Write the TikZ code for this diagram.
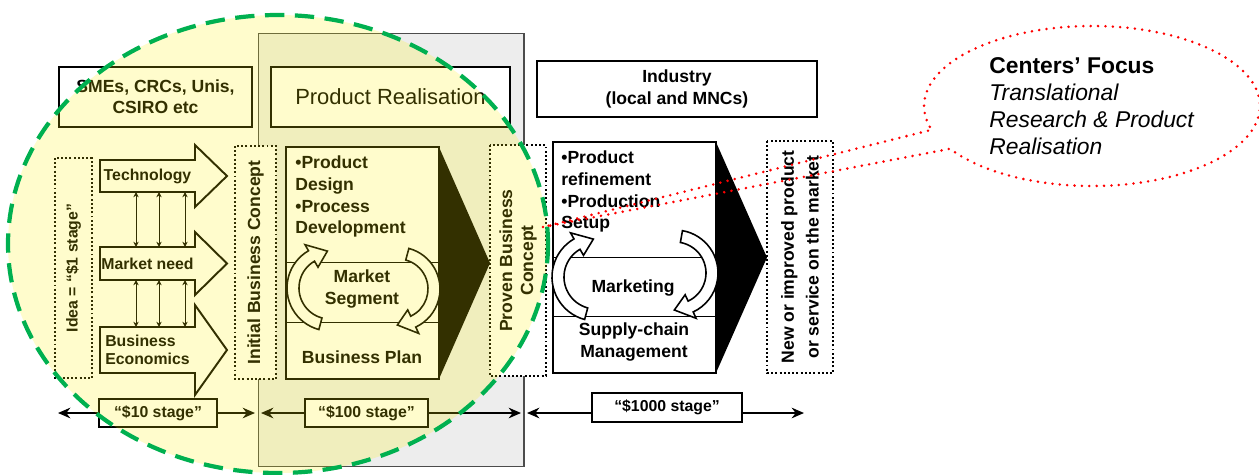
\documentclass[tikz,border=0pt]{standalone}
\usepackage{fontspec}
\setmainfont{Liberation Sans}
\usetikzlibrary{arrows.meta,calc,shapes.callouts}
\definecolor{focusgreen}{RGB}{0,176,80}
\definecolor{panelgray}{gray}{0.93}

\tikzset{
  box/.style={draw, line width=1.1pt, fill=white, inner sep=0pt, outer sep=0pt, align=center,
    font=\bfseries\fontsize{10}{12}\selectfont},
  dotbox/.style={box, dash pattern=on 1.1pt off 1.3pt, rotate=90},
  shaft/.style={inner sep=0pt, outer sep=0pt, minimum width=1.9cm, align=left,
    font=\bfseries\fontsize{9}{10.5}\selectfont},
  lbl/.style={inner sep=0pt, align=center, font=\bfseries\fontsize{10}{12.5}\selectfont},
  stagebox/.style={box, font=\bfseries\fontsize{9}{10}\selectfont},
  link/.style={line width=0.5pt, {Stealth[length=3pt,width=3pt]}-{Stealth[length=3pt,width=3pt]}},
  stageline/.style={line width=1.2pt, -{Stealth[length=7pt,width=6pt]}},
  cyclearr/.style={draw, fill=white, line width=0.9pt},
}

% fat arrow round a shaft node
\newcommand\blockarrow[2]{%
  \draw[line width=1.1pt] (#1.north west) -- (#1.north east) -- ($(#1.north east)+(0,-#2)$)
    -- ($(#1.east)+(32,0)$) -- ($(#1.south east)+(0,#2)$) -- (#1.south east) -- (#1.south west) -- cycle;}
% hollow round arrow: centre, radius, start, end
\newcommand\cyclearrow[4]{%
  \draw[cyclearr, shift={#1}] (#3:{#2+6}) arc[start angle=#3, end angle=#4, radius={#2+6}]
    -- (#4:{#2+13}) -- ({#4+26}:#2) -- (#4:{#2-13}) -- (#4:{#2-6})
    arc[start angle=#4, end angle=#3, radius={#2-6}] -- cycle;}

\begin{document}
\begin{tikzpicture}[x=0.02cm, y=-0.02cm]
  \useasboundingbox (0,0) rectangle (1259,474);
  \node[draw=gray!60!black, line width=0.6pt, fill=panelgray, minimum width=5.32cm, minimum height=8.68cm,
    inner sep=0pt, outer sep=0pt] (panel) at (391,250) {};

  % headers
  \node[box, minimum width=3.86cm, minimum height=1.2cm] (smes) at (155.5,97) {SMEs, CRCs, Unis,\\CSIRO etc};
  \node[box, minimum width=4.78cm, minimum height=1.2cm, font=\fontsize{12.5}{14}\selectfont] (realis) at (390.5,97) {Product Realisation};
  \node[box, minimum width=5.6cm, minimum height=1.12cm, font=\bfseries\fontsize{10}{13}\selectfont] (industry) at (677,89) {Industry\\(local and MNCs)};

  % left column
  \node[dotbox, minimum width=4.4cm, minimum height=0.74cm, font=\bfseries\fontsize{9}{10}\selectfont] (idea) at (73.5,268) {Idea = “\$1 stage”};
  \node[shaft, minimum height=0.64cm] (tech) at (147.5,176) {Technology};
  \node[shaft, minimum height=0.66cm] (need) at (147.5,263.5) {Market need};
  \node[shaft, minimum height=0.92cm] (econ) at (147.5,350) {Business\\Economics};
  \blockarrow{tech}{15}
  \blockarrow{need}{15}
  \blockarrow{econ}{22}
  \foreach \dx in {36,59,85}{
    \draw[link] ($(tech.south west)+(\dx,0)$) -- ($(need.north west)+(\dx,0)$);
    \draw[link] ($(need.south west)+(\dx,0)$) -- ($(econ.north west)+(\dx,0)$);
  }
  \node[dotbox, minimum width=4.66cm, minimum height=0.82cm] (initial) at (255.5,262.5) {Initial Business Concept};

  % product realisation
  \node[box, minimum width=3.06cm, minimum height=4.64cm] (design) at (362.5,263) {};
  \fill (design.north east) -- ($(design.east)+(51,0)$) -- (design.south east) -- cycle;
  \draw[line width=0.6pt] ($(design.north west)+(0,115)$) -- ($(design.north east)+(0,115)$);
  \draw[line width=0.6pt] ($(design.north west)+(0,175)$) -- ($(design.north east)+(0,175)$);
  \cyclearrow{(330,288)}{37}{105}{240}
  \cyclearrow{(398,289)}{36}{-75}{65}
  \node[lbl, anchor=north west, align=left] (designtxt) at ($(design.north west)+(9,8)$) {•Product\\Design\\•Process\\Development};
  \node[lbl] (segment) at (362,289) {Market\\Segment};
  \node[lbl] (bplan) at (362,357) {Business Plan};
  \node[dotbox, minimum width=4.62cm, minimum height=1.12cm] (proven) at (518,260.5) {Proven Business\\Concept};

  % industry
  \node[box, minimum width=3.26cm, minimum height=4.62cm] (refine) at (634.5,257.5) {};
  \fill (refine.north east) -- ($(refine.east)+(51,0)$) -- (refine.south east) -- cycle;
  \draw[line width=0.6pt] ($(refine.north west)+(0,115)$) -- ($(refine.north east)+(0,115)$);
  \draw[line width=0.6pt] ($(refine.north west)+(0,174)$) -- ($(refine.north east)+(0,174)$);
  \cyclearrow{(596,277)}{38}{105}{240}
  \cyclearrow{(675,273)}{37}{-80}{65}
  \node[lbl, anchor=north west, align=left] (refinetxt) at ($(refine.north west)+(8,8)$) {•Product\\refinement\\•Production\\Setup};
  \node[lbl] (marketing) at (633,288) {Marketing};
  \node[lbl] (supply) at (634,342) {Supply-chain\\Management};
  \node[dotbox, minimum width=4.64cm, minimum height=1.32cm, font=\bfseries\fontsize{10}{14}\selectfont] (market) at (800,257) {New or improved product\\or service on the market};

  % stages
  \node[stagebox, minimum width=2.36cm, minimum height=0.56cm] (s10) at (158,413) {“\$10 stage”};
  \node[stagebox, minimum width=2.46cm, minimum height=0.56cm] (s100) at (366.5,413) {“\$100 stage”};
  \node[stagebox, minimum width=3cm, minimum height=0.58cm] (s1000) at (667,407.5) {“\$1000 stage”};
  \coordinate (t0) at (58,413);
  \coordinate (t1) at (255,413);
  \coordinate (t2) at (261,413);
  \coordinate (t3) at (521,413);
  \coordinate (t4) at (527,413);
  \coordinate (t5) at (804,413);
  \draw[stageline] (s10.west) -- (t0);
  \draw[stageline] (s10.east) -- (t1);
  \draw[stageline] (s100.west) -- (t2);
  \draw[stageline] (s100.east) -- (t3);
  \draw[stageline] (s1000.west |- t4) -- (t4);
  \draw[stageline] (s1000.east |- t5) -- (t5);

  % focus area
  \draw[focusgreen, line width=2.4pt, dash pattern=on 11pt off 6pt, fill=yellow, fill opacity=0.2, draw opacity=1]
    (278,244) ellipse [x radius=270, y radius=229];

  \coordinate (tip) at (543,227);
  \node[ellipse callout, draw=red, line width=1.6pt, dash pattern=on 0pt off 4.2pt, line cap=round,
    minimum width=6.72cm, minimum height=3.2cm, inner sep=0pt, callout absolute pointer={(tip)},
    callout pointer arc=15, align=left, font=\fontsize{13}{15.5}\selectfont] (note) at (1092,106)
    {\textbf{Centers’ Focus}\\\textit{Translational}\\\textit{Research \& Product}\\\textit{Realisation}};
\end{tikzpicture}
\end{document}
